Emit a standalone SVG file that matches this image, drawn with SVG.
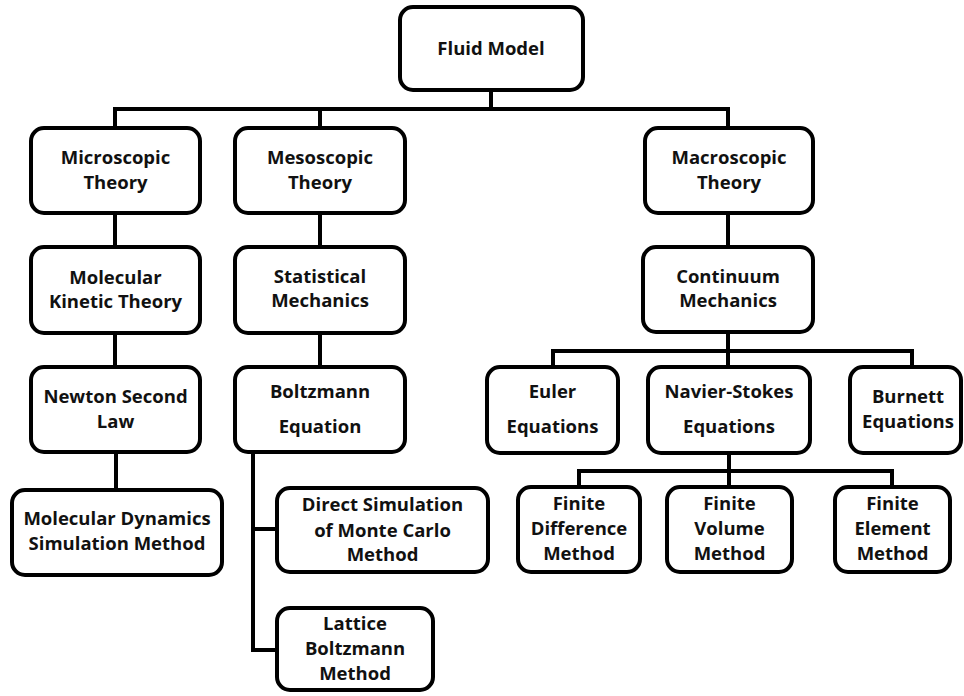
<svg xmlns="http://www.w3.org/2000/svg" width="964" height="696" viewBox="0 0 964 696">
<style>
.box{fill:#fff;stroke:#000;stroke-width:4}
.lbl{font-family:"Open Sans","Liberation Sans",sans-serif;font-weight:bold;font-size:18.5px;text-anchor:middle;fill:#111}
.con{fill:none;stroke:#000;stroke-width:4;stroke-linecap:square}
</style>
<rect width="964" height="696" fill="#fff"/>
<g id="connectors">
<path class="con" d="M491,90 V109 M115,128 V109 H728 V128 M320,109 V128"/>
<path class="con" d="M115,213 V247 M115,333 V367 M116,452 V490"/>
<path class="con" d="M320,213 V247 M320,333 V367"/>
<path class="con" d="M253,452 V650 H277 M253,529 H277"/>
<path class="con" d="M728,213 V247 M728,332 V351 M553,367 V351 H912 V367 M728,351 V367"/>
<path class="con" d="M729,453 V471 M579,487 V471 H892 V487 M729,471 V487"/>
</g>
<g id="fluid-model"><rect class="box" x="400" y="7" width="183" height="83" rx="13"/><text class="lbl" x="491" y="55">Fluid Model</text></g>
<g id="microscopic"><rect class="box" x="31" y="128" width="169" height="85" rx="13"/><text class="lbl" x="115.5" y="164">Microscopic</text><text class="lbl" x="115.5" y="189">Theory</text></g>
<g id="mesoscopic"><rect class="box" x="235" y="128" width="170" height="85" rx="13"/><text class="lbl" x="320" y="164">Mesoscopic</text><text class="lbl" x="320" y="189">Theory</text></g>
<g id="macroscopic"><rect class="box" x="645" y="128" width="168" height="85" rx="13"/><text class="lbl" x="729" y="164">Macroscopic</text><text class="lbl" x="729" y="189">Theory</text></g>
<g id="molecular-kinetic"><rect class="box" x="31" y="247" width="169" height="86" rx="13"/><text class="lbl" x="115.5" y="284">Molecular</text><text class="lbl" x="115.5" y="308">Kinetic Theory</text></g>
<g id="statistical-mechanics"><rect class="box" x="235" y="247" width="170" height="86" rx="13"/><text class="lbl" x="320" y="283">Statistical</text><text class="lbl" x="320" y="307">Mechanics</text></g>
<g id="continuum-mechanics"><rect class="box" x="643" y="247" width="170" height="85" rx="13"/><text class="lbl" x="728" y="283">Continuum</text><text class="lbl" x="728" y="307">Mechanics</text></g>
<g id="newton"><rect class="box" x="31" y="367" width="169" height="85" rx="13"/><text class="lbl" x="115.5" y="403">Newton Second</text><text class="lbl" x="115.5" y="428">Law</text></g>
<g id="boltzmann-equation"><rect class="box" x="235" y="367" width="170" height="85" rx="13"/><text class="lbl" x="320" y="398">Boltzmann</text><text class="lbl" x="320" y="433">Equation</text></g>
<g id="euler"><rect class="box" x="487" y="367" width="131" height="86" rx="13"/><text class="lbl" x="552.5" y="398">Euler</text><text class="lbl" x="552.5" y="433">Equations</text></g>
<g id="navier-stokes"><rect class="box" x="648" y="367" width="162" height="86" rx="13"/><text class="lbl" x="729" y="398">Navier-Stokes</text><text class="lbl" x="729" y="433">Equations</text></g>
<g id="burnett"><rect class="box" x="850" y="367" width="111" height="86" rx="13"/><text class="lbl" x="908" y="403">Burnett</text><text class="lbl" x="908" y="428">Equations</text></g>
<g id="molecular-dynamics"><rect class="box" x="12" y="490" width="210" height="85" rx="13"/><text class="lbl" x="117" y="525">Molecular Dynamics</text><text class="lbl" x="117" y="550">Simulation Method</text></g>
<g id="dsmc"><rect class="box" x="277" y="488" width="211" height="84" rx="13"/><text class="lbl" x="382.5" y="511">Direct Simulation</text><text class="lbl" x="382.5" y="537">of Monte Carlo</text><text class="lbl" x="382.5" y="561">Method</text></g>
<g id="lattice-boltzmann"><rect class="box" x="277" y="608" width="156" height="82" rx="13"/><text class="lbl" x="355" y="630">Lattice</text><text class="lbl" x="355" y="655">Boltzmann</text><text class="lbl" x="355" y="680">Method</text></g>
<g id="finite-difference"><rect class="box" x="518" y="487" width="122" height="85" rx="13"/><text class="lbl" x="579" y="510">Finite</text><text class="lbl" x="579" y="535">Difference</text><text class="lbl" x="579" y="560">Method</text></g>
<g id="finite-volume"><rect class="box" x="667" y="487" width="125" height="85" rx="13"/><text class="lbl" x="729.5" y="510">Finite</text><text class="lbl" x="729.5" y="535">Volume</text><text class="lbl" x="729.5" y="560">Method</text></g>
<g id="finite-element"><rect class="box" x="835" y="487" width="115" height="85" rx="13"/><text class="lbl" x="892.5" y="510">Finite</text><text class="lbl" x="892.5" y="535">Element</text><text class="lbl" x="892.5" y="560">Method</text></g>
</svg>
